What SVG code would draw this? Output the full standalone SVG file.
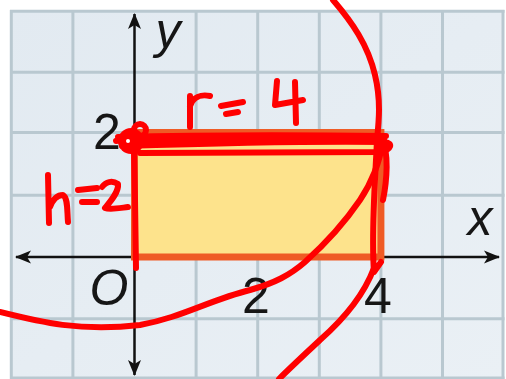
<svg xmlns="http://www.w3.org/2000/svg" width="506" height="379" viewBox="0 0 506 379">
  <defs>
    <linearGradient id="bg" x1="0" y1="0" x2="1" y2="1">
      <stop offset="0" stop-color="#E2EAF1"/>
      <stop offset="1" stop-color="#EAF0F5"/>
    </linearGradient>
    <marker id="arr" viewBox="-16 -8 18 16" refX="0" refY="0" markerWidth="18" markerHeight="16" markerUnits="userSpaceOnUse" orient="auto-start-reverse">
      <path d="M1,0 L-15,-6.5 L-11,0 L-15,6.5 Z" fill="#111"/>
    </marker>
    <style>
      .grid line { stroke: #B9C8D0; stroke-width: 3; }
      .axis { stroke: #111; stroke-width: 2.5; fill: none; }
      .lbl { font-family: "Liberation Sans", Arial, sans-serif; font-size: 50px; fill: #161616; text-anchor: middle; }
      .it { font-style: italic; }
      .ink { stroke: #FF0000; stroke-width: 6; fill: none; stroke-linecap: round; stroke-linejoin: round; }
    </style>
  </defs>
  <rect width="506" height="379" fill="#FFFFFF"/>
  <g id="grid" class="grid">
    <rect x="10" y="10" width="493.5" height="369" fill="url(#bg)"/>
    <line x1="11.3" y1="10" x2="11.3" y2="379"/>
    <line x1="72.9" y1="10" x2="72.9" y2="379"/>
    <line x1="196.1" y1="10" x2="196.1" y2="379"/>
    <line x1="257.7" y1="10" x2="257.7" y2="379"/>
    <line x1="319.3" y1="10" x2="319.3" y2="379"/>
    <line x1="380.9" y1="10" x2="380.9" y2="379"/>
    <line x1="442.5" y1="10" x2="442.5" y2="379"/>
    <line x1="503" y1="10" x2="503" y2="379"/>
    <line x1="10" y1="11.2" x2="504.5" y2="11.2"/>
    <line x1="10" y1="72.2" x2="504.5" y2="72.2"/>
    <line x1="10" y1="132.5" x2="504.5" y2="132.5"/>
    <line x1="10" y1="195.3" x2="504.5" y2="195.3"/>
    <line x1="10" y1="318.7" x2="504.5" y2="318.7"/>
    <line x1="10" y1="378" x2="504.5" y2="378"/>
  </g>
  <g id="axes">
    <line class="axis" x1="16" y1="257" x2="499" y2="257" marker-start="url(#arr)" marker-end="url(#arr)"/>
    <line class="axis" x1="134.5" y1="14" x2="134.5" y2="375" marker-start="url(#arr)" marker-end="url(#arr)"/>
  </g>
  <g id="rectangle">
    <rect x="134.5" y="132.5" width="246.4" height="124.5" fill="#FDE38C" stroke="#EF5B25" stroke-width="7"/>
  </g>
  <g id="labels">
    <text class="lbl it" x="168" y="48">y</text>
    <text class="lbl it" x="480" y="235">x</text>
    <text class="lbl" x="107" y="149">2</text>
    <text class="lbl it" x="109" y="305" font-size="46">O</text>
    <text class="lbl" x="256" y="313">2</text>
    <text class="lbl" x="378" y="313">4</text>
  </g>
  <g id="annotations">
    <path class="ink" d="M333,0 C352,22 368,45 375,75 C381,100 379,120 377,140 C375,185 371,232 374,272 L381,262"/>
    <path class="ink" d="M382,141 C389,152 387,180 383,200"/>
    <path class="ink" d="M374,268 C365,292 345,318 320,340 C303,356 290,368 279,379"/>
    <path class="ink" d="M0,312 C40,322 80,332 140,325 C180,318 210,300 250,290 C275,283 290,275 305,262 C325,244 345,222 360,200 C372,182 380,160 383,141"/>
    <path class="ink" d="M118,137 C200,135 300,135 386,136" stroke-width="7"/>
    <path class="ink" d="M122,146 C220,143 320,141 385,142 C393,143 392,150 380,152 L140,153" stroke-width="7"/>
    <path class="ink" d="M130,141 L384,139" stroke-width="5"/>
    <path class="ink" d="M134,150 L135,200 L136,268" stroke-width="7"/>
    <circle cx="131" cy="141" r="13" fill="#FF0000"/>
    <circle cx="140" cy="130" r="6" class="ink"/>
    <path class="ink" d="M116,141 L124,140"/>
    <circle cx="128" cy="141" r="2" fill="#FFFFFF"/>
    <path class="ink" d="M190,127 L190,96 M190,106 C193,97 201,94 210,96"/>
    <path class="ink" d="M221,106 L243,102 M226,114 L238,112"/>
    <path class="ink" d="M277,81 L275,105 L303,100 M295,82 L296,123"/>
    <path class="ink" d="M48,175 L49,223 M50,207 C53,199 58,195 63,195 C68,198 67,210 68,222"/>
    <path class="ink" d="M78,190 L97,188 M82,202 L97,202"/>
    <path class="ink" d="M102,187 C106,182 112,180 118,184 C119,192 110,202 105,208 C110,210 120,208 128,207"/>
  </g>
</svg>
